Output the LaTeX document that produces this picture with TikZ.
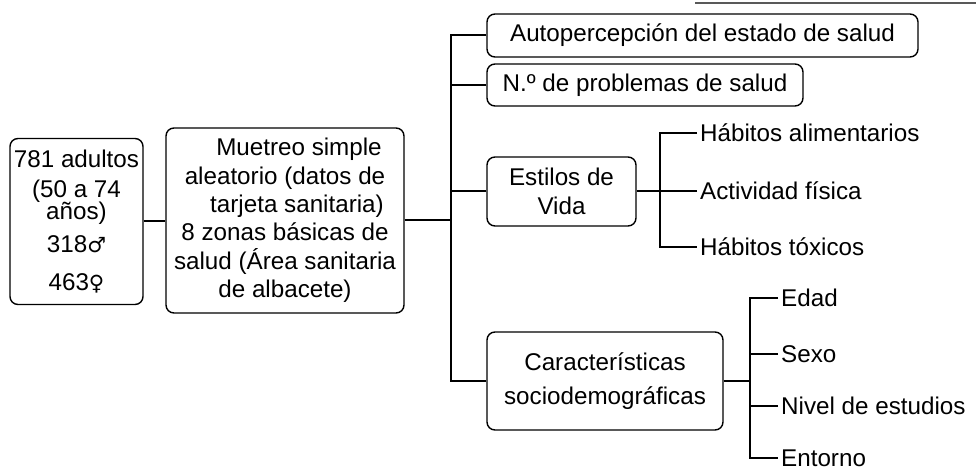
\documentclass[tikz,border=0pt]{standalone}
\usepackage{fontspec}
\setmainfont{Liberation Sans}
\newfontfamily\symfont{DejaVu Sans}
\begin{document}
\begin{tikzpicture}[x=1pt,y=-1pt,
  box/.style={draw, rounded corners=8pt, line width=1.4pt, align=center, inner sep=0pt},
  conn/.style={line width=2pt},
  leaf/.style={anchor=west, inner xsep=3pt, inner ysep=0pt, text height=17pt, text depth=0pt},
  font=\fontsize{24.2}{28.4}\selectfont]
\useasboundingbox (0,0) rectangle (976,470);
\draw[gray!70!black, line width=1.5pt] (695,3) -- (976,3);

\node[box, minimum width=133pt, minimum height=166pt] (b1) at (76.5,221.5)
  {781 adultos\\[1.5pt](50 a 74\\[-5.5pt]años)\\[4.5pt]318{\symfont\fontsize{21}{26}\selectfont ♂}\\[9.5pt]463{\symfont\fontsize{21}{26}\selectfont ♀}};
\node[box, minimum width=238pt, minimum height=185pt] (b2) at (285,220.5)
  {\hspace*{28pt}Muetreo simple\\aleatorio (datos de\\\hspace*{24pt}tarjeta sanitaria)\\8 zonas básicas de\\salud (Área sanitaria\\de albacete)};

\node[box, minimum width=431pt, minimum height=43pt] (auto) at (702.5,35.5) {Autopercepción del estado de salud};
\node[box, minimum width=316pt, minimum height=42pt] (np) at (645,85) {N.º de problemas de salud};
\node[box, minimum width=149pt, minimum height=69pt] (est) at (561.5,191.5) {Estilos de\\Vida};
\node[box, minimum width=236pt, minimum height=98pt] (car) at (605,381) {Características\\[6pt]sociodemográficas};

\node[leaf] (h1) at (697,133) {Hábitos alimentarios};
\node[leaf] (h2) at (697,191.5) {Actividad física};
\node[leaf] (h3) at (697,247) {Hábitos tóxicos};

\node[leaf] (c1) at (778,298) {Edad};
\node[leaf] (c2) at (778,354) {Sexo};
\node[leaf] (c3) at (778,406) {Nivel de estudios};
\node[leaf] (c4) at (778,458) {Entorno};

\coordinate (tr) at (451,220.5);
\coordinate (ej) at (660,191.5);
\coordinate (cj) at (750,381);

\draw[conn] (b1.east) -- (b1.east -| b2.west);
\draw[conn] (b2.east) -- (tr);
\draw[conn] (auto.west) -| (tr) |- (car.west);
\draw[conn] (np.west) -- (np.west -| tr);
\draw[conn] (est.west) -- (est.west -| tr);

\draw[conn] (est.east) -- (ej);
\draw[conn] (h1.west) -| (ej) |- (h3.west);
\draw[conn] (h2.west) -- (ej);

\draw[conn] (car.east) -- (cj);
\draw[conn] (c1.west) -| (cj) |- (c4.west);
\draw[conn] (c2.west) -- (c2.west -| cj);
\draw[conn] (c3.west) -- (c3.west -| cj);
\end{tikzpicture}
\end{document}
